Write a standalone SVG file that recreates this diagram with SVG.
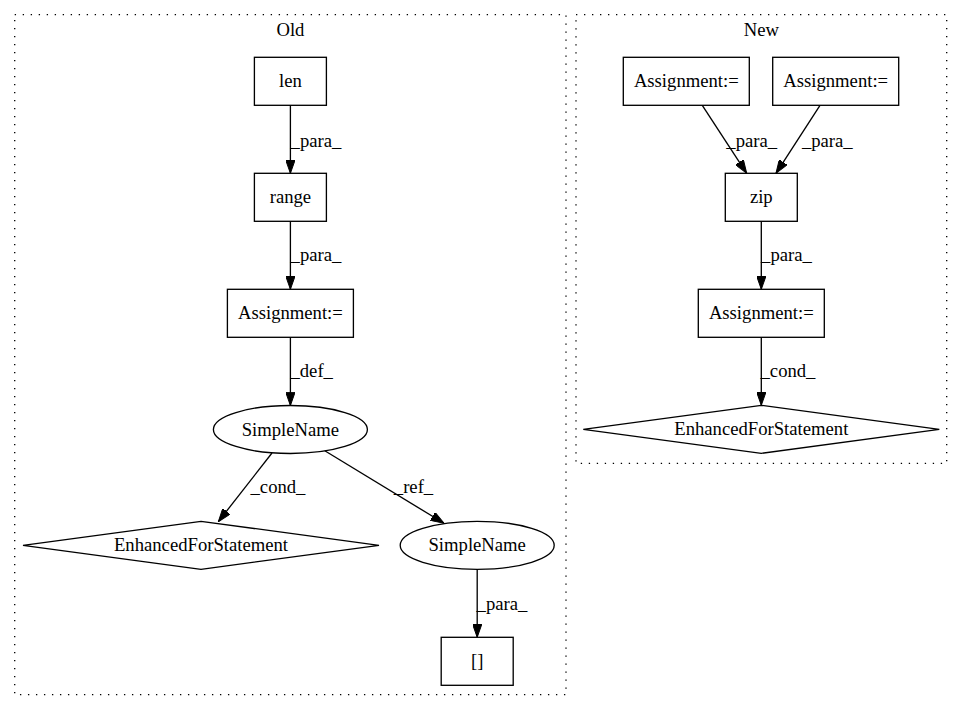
<svg xmlns="http://www.w3.org/2000/svg" width="963" height="712" viewBox="0 0 963 712">
<style>
text { font-family: "Liberation Serif", "Times New Roman", serif; font-size: 18.67px; fill: #000; text-anchor: middle; }
.cluster { fill: none; stroke: #000; stroke-width: 1.33; stroke-dasharray: 1.33,6.67; }
.node { fill: none; stroke: #000; stroke-width: 1.33; }
.edge { fill: none; stroke: #000; stroke-width: 1.33; marker-end: url(#arrow); }
</style>
<defs>
<marker id="arrow" viewBox="0 0 13.3 9.4" refX="13.3" refY="4.7" markerWidth="13.3" markerHeight="9.4" markerUnits="userSpaceOnUse" orient="auto">
<path d="M0,0 L13.3,4.7 L0,9.4 z" fill="#000" stroke="#000" stroke-width="1"/>
</marker>
</defs>
<rect width="963" height="712" fill="#fff"/>
<g id="cluster_old">
<rect class="cluster" x="14.7" y="14.7" width="551.3" height="680"/>
<text x="290.4" y="35.5">Old</text>
</g>
<g id="cluster_new">
<rect class="cluster" x="576" y="14.7" width="370.7" height="448.7"/>
<text x="761.3" y="35.5">New</text>
</g>
<g id="len">
<rect class="node" x="254.4" y="57.3" width="72" height="48"/>
<text x="290.4" y="87.3">len</text>
</g>
<g id="range">
<rect class="node" x="254.4" y="173.3" width="72" height="48"/>
<text x="290.4" y="203.3">range</text>
</g>
<g id="assign_old">
<rect class="node" x="227.4" y="289.3" width="126" height="48"/>
<text x="290.4" y="319.3">Assignment:=</text>
</g>
<g id="simplename1">
<ellipse class="node" cx="290.4" cy="429.5" rx="77" ry="24"/>
<text x="290.4" y="435.5">SimpleName</text>
</g>
<g id="efs_old">
<polygon class="node" points="201,521.3 379,545.3 201,569.3 23,545.3"/>
<text x="201" y="551.3">EnhancedForStatement</text>
</g>
<g id="simplename2">
<ellipse class="node" cx="477.2" cy="545.3" rx="77" ry="24"/>
<text x="477.2" y="551.3">SimpleName</text>
</g>
<g id="index">
<rect class="node" x="441.2" y="637.3" width="72" height="48"/>
<text x="477.2" y="667.3">[]</text>
</g>
<g id="assign_a">
<rect class="node" x="623.3" y="57.3" width="126" height="48"/>
<text x="686.3" y="87.3">Assignment:=</text>
</g>
<g id="assign_b">
<rect class="node" x="772.7" y="57.3" width="126" height="48"/>
<text x="835.7" y="87.3">Assignment:=</text>
</g>
<g id="zip">
<rect class="node" x="725.3" y="173.3" width="72" height="48"/>
<text x="761.3" y="203.3">zip</text>
</g>
<g id="assign_c">
<rect class="node" x="698.3" y="289.3" width="126" height="48"/>
<text x="761.3" y="319.3">Assignment:=</text>
</g>
<g id="efs_new">
<polygon class="node" points="761.3,405.3 939.3,429.3 761.3,453.3 583.3,429.3"/>
<text x="761.3" y="435.3">EnhancedForStatement</text>
</g>
<g id="connectors">
<line class="edge" x1="290.4" y1="105.3" x2="290.4" y2="173.3"/>
<text x="316" y="146.7">_para_</text>
<line class="edge" x1="290.4" y1="221.3" x2="290.4" y2="289.3"/>
<text x="316" y="260.7">_para_</text>
<line class="edge" x1="290.4" y1="337.3" x2="290.4" y2="405.5"/>
<text x="311.7" y="376.7">_def_</text>
<line class="edge" x1="272" y1="453" x2="218.3" y2="521.7"/>
<text x="278" y="493">_cond_</text>
<line class="edge" x1="324.8" y1="450.7" x2="444" y2="523.3"/>
<text x="413.5" y="493">_ref_</text>
<line class="edge" x1="477.2" y1="569.3" x2="477.2" y2="637.3"/>
<text x="502" y="610">_para_</text>
<line class="edge" x1="702.3" y1="105.3" x2="746.7" y2="173.3"/>
<text x="751.7" y="146.7">_para_</text>
<line class="edge" x1="820" y1="105.3" x2="776" y2="173.3"/>
<text x="827.3" y="146.7">_para_</text>
<line class="edge" x1="761.3" y1="221.3" x2="761.3" y2="289.3"/>
<text x="786.5" y="260.7">_para_</text>
<line class="edge" x1="761.3" y1="337.3" x2="761.3" y2="405.3"/>
<text x="788" y="376.7">_cond_</text>
</g>
</svg>
